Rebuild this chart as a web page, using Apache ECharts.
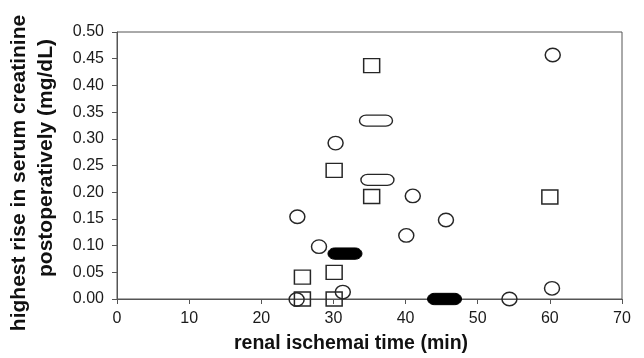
<!DOCTYPE html>
<html><head><meta charset="utf-8">
<script src="https://cdn.jsdelivr.net/npm/echarts@6/dist/echarts.min.js"></script>
<style>html,body{margin:0;padding:0;background:#fff}#c{width:644px;height:358px}</style>
</head><body><div id="c"></div>
<script>
const xTicks = [0, 10, 20, 30, 40, 50, 60, 70];
const yTicks = [0, 0.05, 0.10, 0.15, 0.20, 0.25, 0.30, 0.35, 0.40, 0.45, 0.50];
const circles = [[60.4,0.457],[30.3,0.292],[41.0,0.193],[25.0,0.154],[45.6,0.148],[40.1,0.119],[28.0,0.098],[31.3,0.013],[60.3,0.020],[24.9,-0.001],[54.4,0.0]];
const squares = [[35.3,0.437],[30.1,0.241],[35.3,0.192],[60.0,0.191],[30.1,0.050],[25.7,0.041],[25.7,0.0],[30.1,0.0]];
const openClusters = [[35.9,0.334],[36.1,0.223]];
const filledClusters = [[31.6,0.085],[45.4,0.0]];
const xTitle = 'renal ischemai time (min)';
const yTitle1 = 'highest rise in serum creatinine';
const yTitle2 = 'postoperatively (mg/dL)';

const stadium = 'path://M6,0 L24,0 C27.3,0 30,2.24 30,5 C30,7.76 27.3,10 24,10 L6,10 C2.7,10 0,7.76 0,5 C0,2.24 2.7,0 6,0 Z';
const ink = '#262626';
const chart = echarts.init(document.getElementById('c'), null, {renderer:'canvas'});
chart.setOption({
  animation:false,
  backgroundColor:'#fff',
  grid:{left:117,right:22,top:32,bottom:59,show:true,borderColor:'#555',borderWidth:1,backgroundColor:'transparent'},
  xAxis:{type:'value',min:xTicks[0],max:xTicks[xTicks.length-1],interval:10,
    axisLine:{show:true,onZero:false,lineStyle:{color:'#555',width:1}},
    axisTick:{show:true,length:5,lineStyle:{color:'#555'}},
    axisLabel:{fontFamily:'Liberation Sans, Arial',fontSize:16,color:'#1a1a1a',margin:12},
    splitLine:{show:false}},
  yAxis:{type:'value',min:yTicks[0],max:yTicks[yTicks.length-1],interval:0.05,
    axisLine:{show:true,onZero:false,lineStyle:{color:'#555',width:1}},
    axisTick:{show:true,length:5,lineStyle:{color:'#555'}},
    axisLabel:{fontFamily:'Liberation Sans, Arial',fontSize:16,color:'#1a1a1a',margin:13,
      formatter:v=>v.toFixed(2)},
    splitLine:{show:false}},
  series:[
    {type:'scatter',data:squares,symbol:'rect',symbolSize:[16,14],clip:false,
     itemStyle:{color:'rgba(0,0,0,0)',borderColor:ink,borderWidth:1.4,opacity:1}},
    {type:'scatter',data:circles,symbol:'circle',symbolSize:[15,13.5],clip:false,
     itemStyle:{color:'rgba(0,0,0,0)',borderColor:ink,borderWidth:1.4,opacity:1}},
    {type:'scatter',data:openClusters,symbol:stadium,symbolKeepAspect:true,symbolSize:33,clip:false,
     itemStyle:{color:'rgba(0,0,0,0)',borderColor:ink,borderWidth:1.4,opacity:1}},
    {type:'scatter',data:filledClusters,symbol:stadium,symbolKeepAspect:true,symbolSize:34,clip:false,
     itemStyle:{color:'#000',borderColor:'#000',borderWidth:1,opacity:1}}
  ],
  graphic:[
    {type:'text',x:351,y:344,style:{text:xTitle,font:'bold 19.5px "Liberation Sans", Arial',fill:'#111',align:'center',verticalAlign:'middle'}},
    {type:'text',x:19,y:173,rotation:Math.PI/2,style:{text:yTitle1,font:'bold 21px "Liberation Sans", Arial',fill:'#111',align:'center',verticalAlign:'middle'}},
    {type:'text',x:46,y:158,rotation:Math.PI/2,style:{text:yTitle2,font:'bold 21px "Liberation Sans", Arial',fill:'#111',align:'center',verticalAlign:'middle'}}
  ]
});
</script></body></html>
